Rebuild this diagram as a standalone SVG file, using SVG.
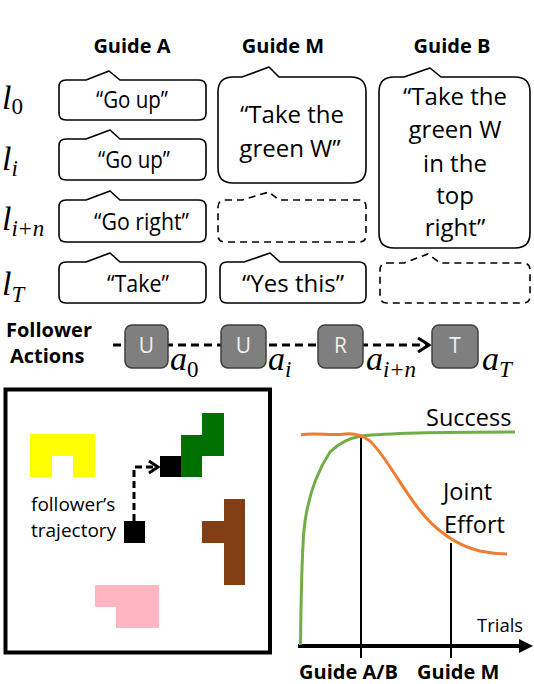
<svg xmlns="http://www.w3.org/2000/svg" width="534" height="684" viewBox="0 0 534 684">
<style>
.t{font-family:"Open Sans","Noto Sans",sans-serif;fill:#000}
.b{font-weight:bold;font-size:20px}
.sa{font-size:24px}
.sm{font-size:24px}
.m{font-family:"Liberation Serif","DejaVu Serif",serif;font-style:italic;font-size:34px;fill:#000}
.ms{font-size:23px}
.up{font-style:normal}
.bub{fill:#fff;stroke:#000;stroke-width:1.6;stroke-linejoin:round}
.dash{stroke-dasharray:7 5}
.act{fill:#7f7f7f;stroke:#3f3f3f;stroke-width:1.5}
.al{font-family:"Open Sans","Noto Sans",sans-serif;font-size:21px;fill:#f0f0f0;text-anchor:middle}
</style>
<defs>
<marker id="chev" markerWidth="14" markerHeight="16" refX="12" refY="8" orient="auto" markerUnits="userSpaceOnUse">
<path d="M1 1 L12 8 L1 15" fill="none" stroke="#000" stroke-width="3"/>
</marker>
</defs>

<g id="headers">
<text class="t b" x="132" y="53" text-anchor="middle">Guide A</text>
<text class="t b" x="283" y="53" text-anchor="middle">Guide M</text>
<text class="t b" x="452" y="53" text-anchor="middle">Guide B</text>
</g>

<g id="row-labels">
<text class="m" x="2" y="109">l<tspan class="ms up" dy="5">0</tspan></text>
<text class="m" x="2" y="170">l<tspan class="ms" dy="6">i</tspan></text>
<text class="m" x="2" y="230">l<tspan class="ms" dy="6">i</tspan><tspan class="ms up" dx="1">+</tspan><tspan class="ms" dx="1">n</tspan></text>
<text class="m" x="2" y="295">l<tspan class="ms" dy="7">T</tspan></text>
</g>

<g id="guideA-l0">
<path class="bub" d="M66 80 H86 L109 71 L120 80 H199 Q206 80 206 87 V113 Q206 120 199 120 H66 Q59 120 59 113 V87 Q59 80 66 80 Z"/>
<text class="t sa" x="96" y="108" textLength="72" lengthAdjust="spacingAndGlyphs">“Go up”</text>
</g>
<g id="guideA-li">
<path class="bub" d="M66 139 H86 L110 130 L120 139 H199 Q206 139 206 146 V173 Q206 180 199 180 H66 Q59 180 59 173 V146 Q59 139 66 139 Z"/>
<text class="t sa" x="98" y="168" textLength="72" lengthAdjust="spacingAndGlyphs">“Go up”</text>
</g>
<g id="guideA-lin">
<path class="bub" d="M66 200 H86 L110 191 L120 200 H199 Q206 200 206 207 V235 Q206 242 199 242 H66 Q59 242 59 235 V207 Q59 200 66 200 Z"/>
<text class="t sa" x="94" y="230" textLength="95" lengthAdjust="spacingAndGlyphs">“Go right”</text>
</g>
<g id="guideA-lT">
<path class="bub" d="M66 262 H86 L110 253 L120 262 H199 Q206 262 206 269 V296 Q206 303 199 303 H66 Q59 303 59 296 V269 Q59 262 66 262 Z"/>
<text class="t sa" x="107" y="292" textLength="62" lengthAdjust="spacingAndGlyphs">“Take”</text>
</g>

<g id="guideM-big">
<path class="bub" d="M233 77 H242 L269 67 L279 77 H351 Q366 77 366 92 V168 Q366 183 351 183 H233 Q218 183 218 168 V92 Q218 77 233 77 Z"/>
<text class="t sm" x="292" y="123" text-anchor="middle">“Take the</text>
<text class="t sm" x="290" y="157" text-anchor="middle">green W”</text>
</g>
<g id="guideM-lin">
<path class="bub dash" d="M225 200 H242 L269 192 L279 200 H359 Q366 200 366 207 V235 Q366 242 359 242 H225 Q218 242 218 235 V207 Q218 200 225 200 Z"/>
</g>
<g id="guideM-lT">
<path class="bub" d="M227 262 H244 L270 253 L280 262 H359 Q366 262 366 269 V296 Q366 303 359 303 H227 Q220 303 220 296 V269 Q220 262 227 262 Z"/>
<text class="t sm" x="293" y="292" text-anchor="middle">“Yes this”</text>
</g>

<g id="guideB-big">
<path class="bub" d="M394 77 H404 L430 68 L441 77 H515 Q530 77 530 92 V233 Q530 248 515 248 H394 Q379 248 379 233 V92 Q379 77 394 77 Z"/>
<text class="t sm" x="455" y="105" text-anchor="middle">“Take the</text>
<text class="t sm" x="455" y="138" text-anchor="middle">green W</text>
<text class="t sm" x="455" y="172" text-anchor="middle">in the</text>
<text class="t sm" x="455" y="204" text-anchor="middle">top</text>
<text class="t sm" x="455" y="236" text-anchor="middle">right”</text>
</g>
<g id="guideB-lT">
<path class="bub dash" d="M387 263 H404 L428 254 L440 263 H523 Q530 263 530 270 V296 Q530 303 523 303 H387 Q380 303 380 296 V270 Q380 263 387 263 Z"/>
</g>

<g id="follower-label">
<text class="t b" x="6" y="337" font-size="19.5">Follower</text>
<text class="t b" x="10" y="363" font-size="19.5">Actions</text>
</g>

<g id="grid">
<rect x="5.5" y="389.5" width="264.5" height="263" fill="#fff" stroke="#000" stroke-width="4"/>
<path d="M30 434 H95 V477 H73 V456 H52 V477 H30 Z" fill="#ffff00"/>
<path d="M202 413 H224 V456 H202 V477 H181 V435 H202 Z" fill="#007000"/>
<rect x="160" y="456" width="21" height="21" fill="#000"/>
<path d="M224 499 H245 V585 H224 V543 H202 V521 H224 Z" fill="#823f14"/>
<path d="M95 585 H159 V628 H116 V607 H95 Z" fill="#ffb6c1"/>
<rect x="124" y="521" width="21" height="22" fill="#000"/>
<text class="t" x="31" y="511" font-size="19">follower’s</text>
<text class="t" x="31" y="537" font-size="19">trajectory</text>
</g>

<g id="connectors">
<line x1="113" y1="345" x2="429" y2="345" stroke="#000" stroke-width="3" stroke-dasharray="8 5" marker-end="url(#chev)"/>
<path d="M134 521 V467 H156" fill="none" stroke="#000" stroke-width="3" stroke-dasharray="7 4"/>
<path d="M149 461 L158 467 L149 473" fill="none" stroke="#000" stroke-width="3"/>
</g>

<g id="action-a0">
<rect class="act" x="125" y="325" width="43" height="43" rx="7"/>
<text class="al" x="146.5" y="353">U</text>
<text class="m" x="170" y="370">a<tspan class="ms up" dy="7">0</tspan></text>
</g>
<g id="action-ai">
<rect class="act" x="221" y="325" width="45" height="43" rx="7"/>
<text class="al" x="243.5" y="353">U</text>
<text class="m" x="268" y="370">a<tspan class="ms" dy="7">i</tspan></text>
</g>
<g id="action-ain">
<rect class="act" x="318" y="325" width="45" height="43" rx="7"/>
<text class="al" x="340.5" y="353">R</text>
<text class="m" x="366" y="370">a<tspan class="ms" dy="7">i</tspan><tspan class="ms up" dx="1">+</tspan><tspan class="ms" dx="1">n</tspan></text>
</g>
<g id="action-aT">
<rect class="act" x="432" y="325" width="46" height="43" rx="7"/>
<text class="al" x="455" y="353">T</text>
<text class="m" x="482" y="370">a<tspan class="ms" dy="7">T</tspan></text>
</g>

<g id="chart">
<line x1="298" y1="646" x2="521" y2="646" stroke="#000" stroke-width="4"/>
<path d="M519 639 L533 646 L519 653 Z" fill="#000"/>
<line x1="361" y1="437" x2="361" y2="658" stroke="#000" stroke-width="2"/>
<line x1="451" y1="543" x2="451" y2="658" stroke="#000" stroke-width="2"/>
<path d="M300.5 645 C301 600 301.5 560 304 530 C307 500 315 475 330 452 C340 442 350 438 361 436 C380 434 420 432 515 432" fill="none" stroke="#70ad47" stroke-width="3"/>
<path d="M301 435 C315 432 330 436 345 434 C355 433 362 435 370 441 C385 455 400 485 418 508 C435 530 455 545 480 551 C490 553 500 554 507 554" fill="none" stroke="#ed7d31" stroke-width="3"/>
<text class="t" x="426" y="426" font-size="23.5">Success</text>
<text class="t" x="443" y="500" font-size="23.5">Joint</text>
<text class="t" x="444" y="533" font-size="23.5">Effort</text>
<text class="t" x="477" y="632" font-size="18.5">Trials</text>
<text class="t b" x="299" y="679">Guide A/B</text>
<text class="t b" x="417" y="679">Guide M</text>
</g>
</svg>
